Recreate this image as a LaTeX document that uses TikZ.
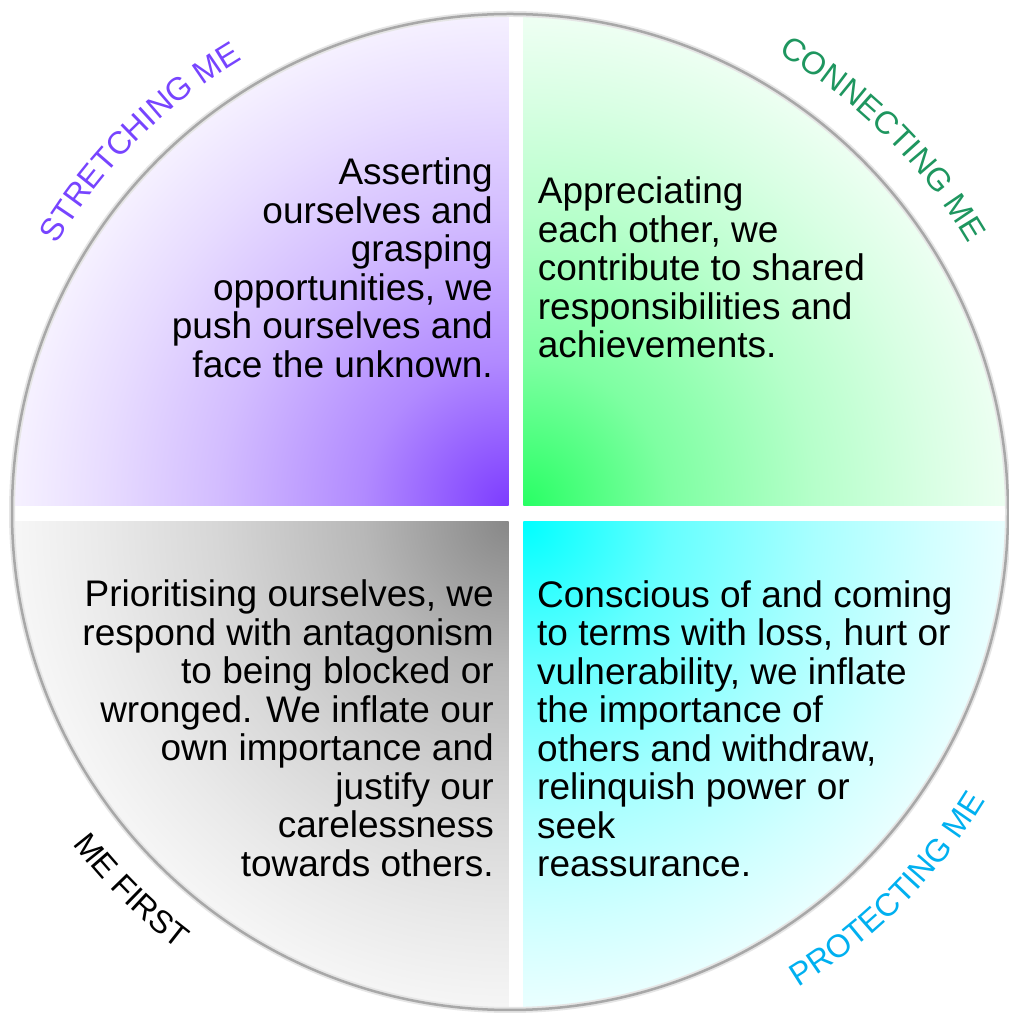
\documentclass[tikz,border=0pt]{standalone}
\usepackage{fontspec}
\setmainfont{Liberation Sans}
\usepackage{xcolor}
\usetikzlibrary{decorations.text}
\definecolor{stretchpurple}{RGB}{125,60,255}
\definecolor{connectgreen}{RGB}{40,255,100}
\definecolor{protectcyan}{RGB}{0,255,255}
\definecolor{firstgrey}{RGB}{136,136,136}
\definecolor{stretchlabel}{RGB}{119,68,255}
\definecolor{connectlabel}{RGB}{30,150,95}
\definecolor{protectlabel}{RGB}{0,176,240}
\newcommand{\bodyfont}{\fontsize{37}{38.5}\selectfont}
\newcommand{\labelfont}{\fontsize{32}{32}\selectfont}
\newcommand{\quadshade}[2]{\pgfdeclareradialshading{#1}{\pgfpointorigin}{color(0bp)=(#2); color(7bp)=(#2!60!white); color(14bp)=(#2!34!white); color(19.5bp)=(#2!18!white); color(25bp)=(#2!4!white); color(50bp)=(white)}}
\quadshade{stretchshade}{stretchpurple}
\quadshade{connectshade}{connectgreen}
\quadshade{protectshade}{protectcyan}
\quadshade{firstshade}{firstgrey}

\begin{document}
\begin{tikzpicture}[x=1pt, y=1pt,
    body/.style={inner sep=0pt, font=\bodyfont},
    ringlabel/.style={decorate}
]

% Background
\fill[white] (0,0) rectangle (1009,1015);
\useasboundingbox (0,0) rectangle (1009,1015);

\coordinate (c) at (510,503);
\coordinate (tl) at (508.7,509);
\coordinate (tr) at (523.3,509);
\coordinate (bl) at (508.7,493.3);
\coordinate (br) at (523.3,493.3);

% Stretching me quadrant
\begin{scope}
\clip (c) circle (498);
\clip (0,1015) rectangle (tl);
\shade[shading=stretchshade] (tl) circle (520);
\end{scope}

% Connecting me quadrant
\begin{scope}
\clip (c) circle (498);
\clip (tr) rectangle (1009,1015);
\shade[shading=connectshade] (tr) circle (520);
\end{scope}

% Me first quadrant
\begin{scope}
\clip (c) circle (498);
\clip (0,0) rectangle (bl);
\shade[shading=firstshade] (bl) circle (520);
\end{scope}

% Protecting me quadrant
\begin{scope}
\clip (c) circle (498);
\clip (br) rectangle (1009,0);
\shade[shading=protectshade] (br) circle (520);
\end{scope}

% Rim
\draw[black!10, line width=6pt] (c) circle (498);
\draw[black!34, line width=2.5pt] (c) circle (498);

% Quadrant texts
\node[body, anchor=north east, align=right] (stretchtext) at (493,857.2) {Asserting\\ourselves and\\grasping\\opportunities, we\\push ourselves and\\face the unknown.};
\node[body, anchor=north west, align=left] (connecttext) at (537.7,838.2) {Appreciating\\each other, we\\contribute to shared\\responsibilities and\\achievements.};
\node[body, anchor=north east, align=right] (firsttext) at (494,435.5) {Prioritising ourselves, we\\respond with antagonism\\to being blocked or\\wronged. We inflate our\\own importance and\\justify our\\carelessness\\towards others.};
\node[body, anchor=north west, align=left] (protecttext) at (537,434.7) {Conscious of and coming\\to terms with loss, hurt or\\vulnerability, we inflate\\the importance of\\others and withdraw,\\relinquish power or\\seek\\reassurance.};

% Curved labels
\path[ringlabel, decoration={text along path, text={|\labelfont|STRETCHING ME}, text align=center, text color=stretchlabel}]
  (c) ++(180:526) arc[start angle=180, end angle=90, radius=526];
\path[ringlabel, decoration={text along path, text={|\labelfont|CONNECTING ME}, text align=center, text color=connectlabel}]
  (c) ++(90:531) arc[start angle=90, end angle=0, radius=531];
\path[ringlabel, decoration={text along path, text={|\labelfont|ME FIRST}, text align=center, text color=black}]
  (c) ++(180:549) arc[start angle=180, end angle=270, radius=549];
\path[ringlabel, decoration={text along path, text={|\labelfont|PROTECTING ME}, text align=center, text color=protectlabel}]
  (c) ++(270:556) arc[start angle=270, end angle=360, radius=556];

\end{tikzpicture}
\end{document}
